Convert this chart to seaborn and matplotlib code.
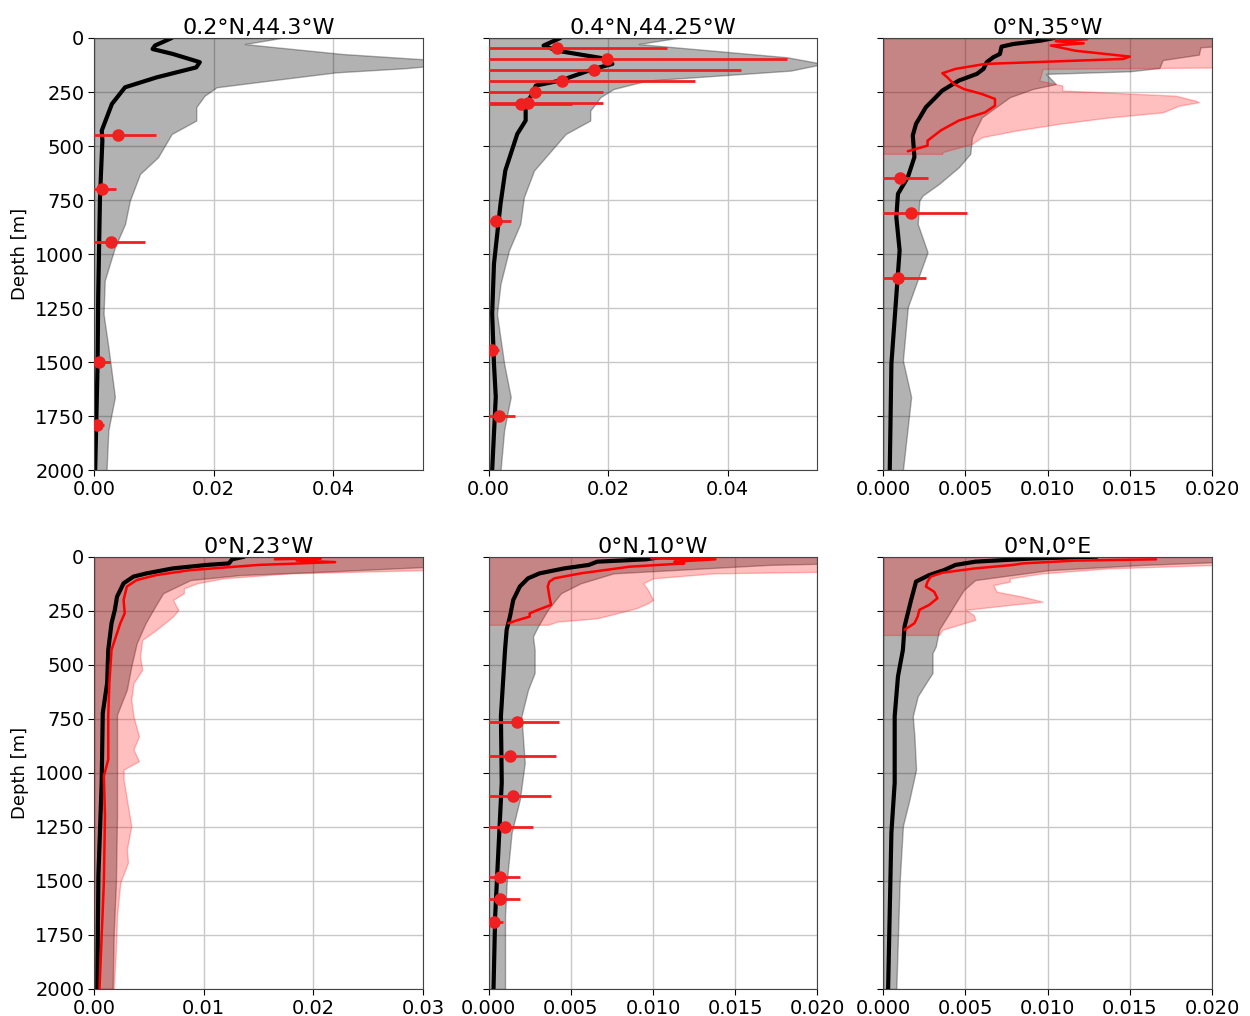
import numpy as np
import matplotlib
matplotlib.use("Agg")
import matplotlib.pyplot as plt
import seaborn as sns

# ========== DATA ==========
TITLES = ["0.2°N,44.3°W", "0.4°N,44.25°W", "0°N,35°W",
          "0°N,23°W", "0°N,10°W", "0°N,0°E"]
XMAX = [0.055, 0.055, 0.02, 0.03, 0.02, 0.02]
XTICKS = [[0, 0.02, 0.04], [0, 0.02, 0.04],
          [0, 0.005, 0.01, 0.015, 0.02],
          [0, 0.01, 0.02, 0.03],
          [0, 0.005, 0.01, 0.015, 0.02],
          [0, 0.005, 0.01, 0.015, 0.02]]
XFMT = ["%.2f", "%.2f", "%.3f", "%.2f", "%.3f", "%.3f"]
DEPTH_TICKS = list(range(0, 2001, 250))

# --- panel 1: 0.2N 44.3W ---
p1_depth = [0, 35, 51, 74, 112, 136, 182, 228, 305, 428, 475, 737, 1199, 1507, 2000]
p1_mean = [0.0130, 0.0102, 0.0098, 0.0132, 0.0177, 0.0171, 0.0105, 0.0052, 0.0030,
           0.0013, 0.0014, 0.0010, 0.0007, 0.0006, 0.0002]
p1_env_depth = [0, 28, 43, 74, 100, 120, 140, 159, 197, 228, 267, 320, 382, 444, 552,
                629, 752, 860, 968, 1122, 1276, 1430, 1661, 1815, 2000]
p1_env_up = [0.0313, 0.0252, 0.0305, 0.0416, 0.056, 0.060, 0.052, 0.0405, 0.0294, 0.0205,
             0.0185, 0.0171, 0.0171, 0.0130, 0.0107, 0.0077, 0.0060, 0.0052, 0.0035,
             0.0018, 0.0016, 0.0024, 0.0035, 0.0024, 0.0021]
p1_obs_depth = [448, 700, 944, 1501, 1789]
p1_obs = [0.0040, 0.0013, 0.0028, 0.0009, 0.0005]
p1_obs_err = [0.0063, 0.0024, 0.0057, 0.0017, 0.0012]

# --- panel 2: 0.4N 44.25W ---
p2_depth = [0, 35, 59, 97, 120, 143, 197, 220, 259, 297, 320, 382, 444, 613, 767,
            1045, 1276, 1507, 1661, 2000]
p2_mean = [0.0120, 0.0092, 0.0115, 0.0198, 0.0207, 0.0176, 0.0120, 0.0079, 0.0073,
           0.0065, 0.0062, 0.0062, 0.0048, 0.0028, 0.0020, 0.0009, 0.0006, 0.0009,
           0.0012, 0.0006]
p2_env_depth = [0, 28, 59, 89, 120, 151, 197, 236, 274, 336, 382, 444, 613, 737, 860,
                983, 1137, 1276, 1507, 1661, 1815, 2000]
p2_env_up = [0.0315, 0.0251, 0.0377, 0.0499, 0.0560, 0.0505, 0.0265, 0.0209, 0.0187,
             0.0170, 0.0170, 0.0129, 0.0076, 0.0059, 0.0053, 0.0034, 0.0020, 0.0014,
             0.0026, 0.0037, 0.0026, 0.0020]
p2_obs_depth = [46, 99, 148, 199, 248, 299, 304, 846, 1442, 1747]
p2_obs = [0.0115, 0.0198, 0.0177, 0.0123, 0.0077, 0.0066, 0.0055, 0.0012, 0.0006, 0.0017]
p2_obs_err = [0.0184, 0.0301, 0.0246, 0.0223, 0.0114, 0.0125, 0.0085, 0.0025, 0.0011, 0.0027]

# --- panel 3: 0N 35W ---
p3_depth = [0, 12, 28, 40, 74, 89, 112, 143, 166, 197, 243, 320, 397, 451, 551, 644,
            721, 829, 983, 1507, 2000]
p3_mean = [0.0104, 0.0096, 0.0079, 0.0072, 0.0071, 0.0067, 0.0063, 0.0061, 0.0057,
           0.0046, 0.0036, 0.0026, 0.0020, 0.0018, 0.0019, 0.0015, 0.0009, 0.0008,
           0.0010, 0.0005, 0.0004]
p3_env_depth = [0, 35, 43, 77, 102, 139, 154, 166, 213, 236, 274, 367, 459, 536, 598,
                675, 729, 752, 860, 991, 1245, 1492, 1661, 2000]
p3_env_up = [0.021, 0.021, 0.0193, 0.0192, 0.0170, 0.0168, 0.0150, 0.0099, 0.0105,
             0.0091, 0.0077, 0.0060, 0.0054, 0.0053, 0.0046, 0.0034, 0.0024, 0.0022,
             0.0021, 0.0027, 0.0015, 0.0012, 0.0017, 0.0012]
p3_hr_env_depth = [0, 136, 143, 197, 220, 243, 267, 290, 297, 313, 344, 367, 397, 428,
                   459, 490, 528, 536]
p3_hr_env_up = [0.021, 0.021, 0.0097, 0.0095, 0.0109, 0.0109, 0.0178, 0.0190, 0.0192,
                0.0180, 0.0170, 0.0138, 0.0107, 0.0081, 0.0060, 0.0054, 0.0036, 0.0036]
p3_hr_depth = [0, 6, 15, 25, 35, 59, 86, 97, 120, 143, 163, 182, 213, 236, 259, 282,
               313, 344, 382, 428, 475, 498, 513, 524]
p3_hr = [0.0096, 0.0124, 0.0105, 0.0122, 0.0102, 0.0117, 0.0150, 0.0146, 0.0062,
         0.0044, 0.0036, 0.0039, 0.0043, 0.0049, 0.0060, 0.0068, 0.0068, 0.0062,
         0.0046, 0.0035, 0.0027, 0.0027, 0.0020, 0.0015]
p3_obs_depth = [649, 809, 1109]
p3_obs = [0.0010, 0.0017, 0.0009]
p3_obs_err = [0.0017, 0.0034, 0.0017]

# --- panel 4: 0N 23W ---
p4_depth = [0, 12, 31, 38, 54, 77, 92, 123, 185, 246, 308, 431, 585, 723, 1046, 1477, 2000]
p4_mean = [0.0137, 0.0126, 0.0123, 0.0103, 0.0072, 0.0048, 0.0036, 0.0027, 0.0021,
           0.0019, 0.0016, 0.0013, 0.0012, 0.0008, 0.0007, 0.0004, 0.0003]
p4_env_depth = [0, 46, 69, 85, 108, 169, 246, 308, 400, 508, 615, 731, 892, 1200,
                1508, 1738, 2000]
p4_env_up = [0.031, 0.031, 0.0210, 0.0133, 0.0088, 0.0063, 0.0054, 0.0047, 0.0039,
             0.0034, 0.0030, 0.0021, 0.0021, 0.0021, 0.0020, 0.0018, 0.0017]
p4_hr_env_depth = [0, 62, 77, 100, 123, 146, 169, 200, 246, 277, 338, 385, 462, 523,
                   585, 662, 738, 831, 892, 946, 985, 1031, 1123, 1246, 1354, 1415,
                   1508, 1662, 1815, 2000]
p4_hr_env_up = [0.0305, 0.0302, 0.0179, 0.0118, 0.0094, 0.0082, 0.0082, 0.0072, 0.0077,
                0.0072, 0.0057, 0.0044, 0.0042, 0.0044, 0.0036, 0.0034, 0.0036, 0.0041,
                0.0036, 0.0041, 0.0027, 0.0027, 0.0030, 0.0034, 0.0030, 0.0031, 0.0024,
                0.0021, 0.0020, 0.0018]
p4_hr_depth = [12, 8, 18, 25, 38, 62, 85, 108, 138, 200, 262, 308, 431, 585, 738,
               938, 1015, 1200, 1508, 2000]
p4_hr = [0.0165, 0.0207, 0.0185, 0.0220, 0.0150, 0.0088, 0.0057, 0.0039, 0.0030,
         0.0027, 0.0028, 0.0024, 0.0016, 0.0014, 0.0013, 0.0013, 0.0009, 0.0010,
         0.0009, 0.0005]

# --- panel 5: 0N 10W ---
p5_depth = [0, 12, 23, 38, 54, 77, 100, 138, 200, 277, 338, 431, 738, 1046, 1354, 1662, 2000]
p5_mean = [0.0106, 0.0096, 0.0066, 0.0061, 0.0046, 0.0031, 0.0024, 0.0019, 0.0015,
           0.0013, 0.0011, 0.0010, 0.00075, 0.0008, 0.0006, 0.0004, 0.0003]
p5_env_depth = [0, 31, 38, 77, 123, 169, 246, 323, 369, 431, 538, 615, 738, 954, 1123,
                1277, 1508, 1662, 2000]
p5_env_up = [0.021, 0.021, 0.0170, 0.0076, 0.0056, 0.0044, 0.0036, 0.0030, 0.0027,
             0.0028, 0.0028, 0.0024, 0.0020, 0.0022, 0.0019, 0.0014, 0.0011, 0.0010, 0.0010]
p5_hr_env_depth = [0, 69, 77, 100, 123, 154, 200, 215, 238, 262, 285, 300, 315]
p5_hr_env_up = [0.021, 0.021, 0.0137, 0.0100, 0.0094, 0.0097, 0.0100, 0.0097, 0.0090,
                0.0078, 0.0066, 0.0042, 0.0036]
p5_hr_depth = [8, 12, 23, 31, 46, 77, 100, 115, 138, 185, 223, 246, 262, 277, 295, 308]
p5_hr = [0.0099, 0.0138, 0.0113, 0.0119, 0.0086, 0.0056, 0.0040, 0.0037, 0.0036,
         0.0037, 0.0038, 0.0030, 0.0025, 0.0025, 0.0017, 0.0012]
p5_obs_depth = [765, 920, 1105, 1249, 1480, 1585, 1689]
p5_obs = [0.0017, 0.0013, 0.0015, 0.0010, 0.0007, 0.0007, 0.0003]
p5_obs_err = [0.0026, 0.0028, 0.0023, 0.0017, 0.0012, 0.0012, 0.0006]

# --- panel 6: 0N 0E ---
p6_depth = [0, 8, 23, 38, 62, 85, 115, 200, 323, 431, 554, 738, 1046, 1277, 2000]
p6_mean = [0.0130, 0.0091, 0.0056, 0.0044, 0.0037, 0.0028, 0.0020, 0.0017, 0.0013,
           0.0012, 0.0009, 0.0007, 0.0007, 0.0005, 0.0003]
p6_env_depth = [0, 23, 38, 62, 108, 154, 215, 277, 338, 415, 446, 538, 585, 646, 738,
                831, 985, 1123, 1246, 1508, 2000]
p6_env_up = [0.021, 0.021, 0.0158, 0.0101, 0.0056, 0.0049, 0.0044, 0.0039, 0.0034,
             0.0032, 0.0030, 0.0030, 0.0026, 0.0021, 0.0018, 0.0019, 0.0020, 0.0016,
             0.0012, 0.0010, 0.0008]
p6_hr_env_depth = [0, 38, 54, 77, 100, 115, 131, 162, 185, 208, 223, 246, 269, 292,
                   315, 338, 362]
p6_hr_env_up = [0.021, 0.0203, 0.0137, 0.0097, 0.0077, 0.0077, 0.0067, 0.0069, 0.0085,
                0.0097, 0.0077, 0.0050, 0.0055, 0.0056, 0.0046, 0.0036, 0.0034]
p6_hr_depth = [12, 18, 31, 38, 54, 74, 92, 115, 138, 162, 192, 223, 246, 277, 308, 338]
p6_hr = [0.0166, 0.0117, 0.0085, 0.0079, 0.0056, 0.0036, 0.0029, 0.0027, 0.0026,
         0.0031, 0.0033, 0.0028, 0.0022, 0.0021, 0.0019, 0.0013]

panels = [
    dict(depth=p1_depth, mean=p1_mean, env_depth=p1_env_depth, env_up=p1_env_up,
         obs_depth=p1_obs_depth, obs=p1_obs, obs_err=p1_obs_err),
    dict(depth=p2_depth, mean=p2_mean, env_depth=p2_env_depth, env_up=p2_env_up,
         obs_depth=p2_obs_depth, obs=p2_obs, obs_err=p2_obs_err),
    dict(depth=p3_depth, mean=p3_mean, env_depth=p3_env_depth, env_up=p3_env_up,
         hr_env_depth=p3_hr_env_depth, hr_env_up=p3_hr_env_up,
         hr_depth=p3_hr_depth, hr=p3_hr,
         obs_depth=p3_obs_depth, obs=p3_obs, obs_err=p3_obs_err),
    dict(depth=p4_depth, mean=p4_mean, env_depth=p4_env_depth, env_up=p4_env_up,
         hr_env_depth=p4_hr_env_depth, hr_env_up=p4_hr_env_up,
         hr_depth=p4_hr_depth, hr=p4_hr),
    dict(depth=p5_depth, mean=p5_mean, env_depth=p5_env_depth, env_up=p5_env_up,
         hr_env_depth=p5_hr_env_depth, hr_env_up=p5_hr_env_up,
         hr_depth=p5_hr_depth, hr=p5_hr,
         obs_depth=p5_obs_depth, obs=p5_obs, obs_err=p5_obs_err),
    dict(depth=p6_depth, mean=p6_mean, env_depth=p6_env_depth, env_up=p6_env_up,
         hr_env_depth=p6_hr_env_depth, hr_env_up=p6_hr_env_up,
         hr_depth=p6_hr_depth, hr=p6_hr),
]

# ========== STYLE ==========
sns.set_style("ticks", {"axes.grid": True, "grid.color": "#c8c8c8",
                        "axes.edgecolor": "#444444"})
plt.rcParams["font.family"] = ["DejaVu Sans"]
plt.rcParams["xtick.labelsize"] = 14
plt.rcParams["ytick.labelsize"] = 14
plt.rcParams["text.color"] = "black"
plt.rcParams["axes.labelcolor"] = "black"
plt.rcParams["xtick.color"] = "black"
plt.rcParams["ytick.color"] = "black"

fig, axs = plt.subplots(2, 3, figsize=(12.5, 10.16), dpi=100, sharey=True)
fig.subplots_adjust(left=0.0752, right=0.9696, top=0.9626, bottom=0.0266,
                    wspace=0.2, hspace=0.2)

# ========== DRAW ==========
for i, (ax, p) in enumerate(zip(axs.flat, panels)):
    ax.fill_betweenx(p["env_depth"], 0, p["env_up"], color="k", alpha=0.3, lw=1)
    if "hr_env_depth" in p:
        ax.fill_betweenx(p["hr_env_depth"], 0, p["hr_env_up"], color="r", alpha=0.25, lw=1)
    sns.lineplot(x=p["mean"], y=p["depth"], sort=False, estimator=None,
                 color="k", lw=3, ax=ax)
    if "hr_depth" in p:
        sns.lineplot(x=p["hr"], y=p["hr_depth"], sort=False, estimator=None,
                     color="r", lw=1.8, ax=ax)
    if "obs_depth" in p:
        ax.errorbar(p["obs"], p["obs_depth"], xerr=p["obs_err"], fmt="o",
                    color="#f02020", ms=8, elinewidth=2, capsize=0, zorder=5)

    ax.set_xlim(0, XMAX[i])
    ax.set_xticks(XTICKS[i])
    ax.xaxis.set_major_formatter(matplotlib.ticker.FormatStrFormatter(XFMT[i]))
    ax.set_ylim(2000, 0)
    ax.set_yticks(DEPTH_TICKS)
    ax.set_title(TITLES[i], fontsize=16, pad=3, color="black")
    ax.grid(True, color="#c8c8c8", lw=1)
    for s in ax.spines.values():
        s.set_color("#444444")
    if i % 3 == 0:
        ax.set_ylabel("Depth [m]", fontsize=13)
    else:
        ax.set_ylabel("")
    ax.tick_params(axis="x", length=4, pad=3)
    ax.tick_params(axis="y", length=4, pad=3)

fig.savefig("out.png", dpi=100)
